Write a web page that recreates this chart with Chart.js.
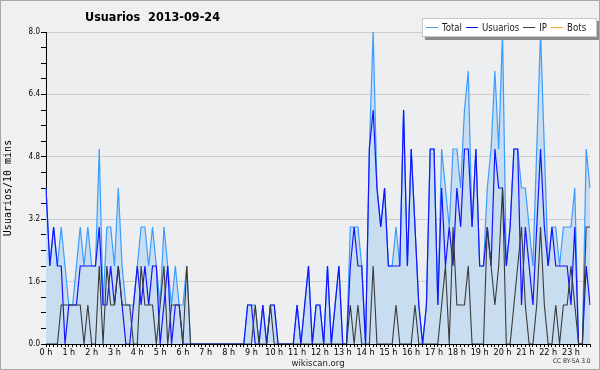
<!DOCTYPE html>
<html>
<head>
<meta charset="utf-8">
<script src="https://cdn.jsdelivr.net/npm/chart.js@4.4.1/dist/chart.umd.min.js"></script>
<style>
  html,body{margin:0;padding:0;background:#f0f0f0;}
  #wrap{position:relative;width:600px;height:370px;background:#f0f0f0;overflow:hidden;font-family:"DejaVu Sans Condensed","DejaVu Sans",sans-serif;}
  #c{position:absolute;left:0;top:0;}
  #frame{position:absolute;left:0;top:0;width:598px;height:368px;border:1px solid #a8a8a8;pointer-events:none;}
  #title{position:absolute;left:85px;top:9px;font-weight:bold;font-size:12.5px;color:#000;white-space:pre;}
  #legend{position:absolute;left:422px;top:18px;width:170px;height:17px;background:#fff;border:1px solid #c8c8c8;box-shadow:3px 3px 0 #8a8a8a;font-size:9.6px;color:#222;white-space:nowrap;display:flex;align-items:center;padding-left:3px;box-sizing:content-box;}
  #legend .ln{display:inline-block;width:12px;height:0;border-top:1px solid;margin-right:4px;}
  #legend .tx{margin-right:4px;}
  #cc{position:absolute;left:553px;top:357px;font-size:6.5px;color:#333;}
</style>
</head>
<body>
<div id="wrap">
  <canvas id="c" width="600" height="370"></canvas>
  <div id="title">Usuarios  2013-09-24</div>
  <div id="legend"></div>
  <div id="cc">CC BY-SA 3.0</div>
  <div id="frame"></div>
</div>
<script>
// ---- data (one value per 10-minute slot, 144 slots) ----
const hourLabels = ['0 h','1 h','2 h','3 h','4 h','5 h','6 h','7 h','8 h','9 h','10 h','11 h',
                    '12 h','13 h','14 h','15 h','16 h','17 h','18 h','19 h','20 h','21 h','22 h','23 h'];
const yTickLabels = ['0.0','1.6','3.2','4.8','6.4','8.0'];
const seriesNames = ['Total','Usuarios','IP','Bots'];

const total = [
  4,2,3,2,3,2,1,1,2,3, 2,3,2,2,5,1,3,3,2,4,
  2,1,1,1,2,3,3,2,3,2, 1,3,2,1,2,1,1,2,0,0,
  0,0,0,0,0,0,0,0,0,0, 0,0,0,1,1,1,0,1,0,1,
  1,0,0,0,0,0,1,0,1,2, 0,1,1,0,2,0,1,2,0,0,
  3,3,3,2,0,5,8,4,3,4, 2,2,3,2,6,2,5,3,1,0,
  1,5,5,1,5,4,3,5,5,4, 6,7,3,5,2,2,4,5,7,5,
  8,2,3,5,5,4,4,3,2,5, 8,5,2,3,3,2,3,3,3,4,
  0,0,5,4
];
const usuarios = [
  4,2,3,2,2,0,1,1,1,2, 2,2,2,2,3,1,1,2,1,2,
  1,0,0,1,2,1,2,1,2,2, 0,1,2,0,1,1,0,0,0,0,
  0,0,0,0,0,0,0,0,0,0, 0,0,0,1,1,0,0,1,0,1,
  1,0,0,0,0,0,1,0,1,2, 0,1,1,0,2,0,1,2,0,0,
  2,3,2,2,0,5,6,4,3,4, 2,2,2,2,6,2,5,3,1,0,
  1,5,5,1,4,2,3,2,4,3, 5,5,3,5,2,2,3,2,5,4,
  4,2,3,5,5,1,3,2,1,3, 5,3,2,3,2,2,2,2,1,3,
  0,0,2,1
];
const ip = [
  0,0,0,0,1,1,1,1,1,1, 0,1,0,0,2,0,2,1,1,2,
  1,1,1,0,0,2,1,1,1,0, 1,2,0,1,1,1,0,2,0,0,
  0,0,0,0,0,0,0,0,0,0, 0,0,0,0,0,1,0,0,0,1,
  0,0,0,0,0,0,0,0,0,0, 0,0,0,0,0,0,0,0,0,0,
  1,0,1,0,0,0,2,0,0,0, 0,0,1,0,0,0,0,1,0,0,
  0,0,0,0,1,2,0,3,1,1, 1,2,0,0,0,0,3,2,1,2,
  4,0,0,1,2,3,1,0,0,1, 3,1,0,0,1,0,1,1,2,1,
  0,0,3,3
];
const bots = [];   // no bot activity that day

// ---- build labels: one per slot, hour label every 6th slot ----
const slots = total.map((_, i) => (i % 6 === 0 ? hourLabels[i / 6] : ''));

const colors = { Total:'#3a9cff', Usuarios:'#1414ff', IP:'#3a3a3a', Bots:'#ffa31a' };

// HTML legend
const leg = document.getElementById('legend');
seriesNames.forEach((n) => {
  const ln = document.createElement('span');
  ln.className = 'ln';
  ln.style.borderTopColor = colors[n];
  leg.appendChild(ln);
  const s = document.createElement('span');
  s.className = 'tx';
  s.textContent = n;
  leg.appendChild(s);
});

const plotBg = {
  id: 'plotBg',
  beforeDraw(chart) {
    const { ctx, chartArea: a } = chart;
    ctx.save();
    ctx.fillStyle = '#eceef0';
    ctx.fillRect(a.left, a.top, a.right - a.left, a.bottom - a.top);
    ctx.restore();
  }
};

const isMajor = v => Math.abs(v / 1.6 - Math.round(v / 1.6)) < 1e-6;

new Chart(document.getElementById('c'), {
  type: 'line',
  data: {
    labels: slots,
    datasets: [
      { label: 'Total', data: total, borderColor: colors.Total, backgroundColor: '#c8ddf0',
        fill: 'origin', borderWidth: 1.2, pointRadius: 0, tension: 0, order: 3 },
      { label: 'Usuarios', data: usuarios, borderColor: colors.Usuarios, fill: false,
        borderWidth: 1.2, pointRadius: 0, tension: 0, order: 2 },
      { label: 'IP', data: ip, borderColor: colors.IP, fill: false,
        borderWidth: 1.1, pointRadius: 0, tension: 0, order: 1 },
      { label: 'Bots', data: bots, borderColor: colors.Bots, fill: false,
        borderWidth: 1.1, pointRadius: 0, tension: 0, order: 0 }
    ]
  },
  options: {
    responsive: false,
    animation: false,
    events: [],
    layout: { padding: { left: 0, right: 10, top: 32, bottom: 0 } },
    plugins: { legend: { display: false }, title: { display: false }, tooltip: { enabled: false } },
    scales: {
      x: {
        type: 'category',
        offset: false,
        grid: { display: true, drawOnChartArea: false, drawTicks: true, tickLength: 3,
                color: '#000', tickColor: '#000', lineWidth: 1 },
        border: { display: true, color: '#000', width: 1 },
        ticks: { autoSkip: false, maxRotation: 0, minRotation: 0, padding: 0,
                 color: '#000', font: { family: '"DejaVu Sans Condensed","DejaVu Sans"', size: 9 },
                 callback(v) { return this.getLabelForValue(v); } },
        title: { display: true, text: 'wikiscan.org', color: '#222', padding: { top: 0, bottom: 1 },
                 font: { family: '"DejaVu Sans Condensed","DejaVu Sans"', size: 9.5 } },
        afterFit(s) { s.height = 26; }
      },
      y: {
        min: 0, max: 8,
        grid: { drawTicks: true, tickLength: 5,
                color: c => (isMajor(c.tick.value) && c.tick.value > 0 ? '#cdcdcd' : 'rgba(0,0,0,0)'),
                tickColor: '#000', lineWidth: 1 },
        border: { display: true, color: '#000', width: 1 },
        ticks: { stepSize: 0.4, autoSkip: false, padding: 1, color: '#000',
                 font: { family: '"DejaVu Sans Condensed","DejaVu Sans"', size: 8 },
                 callback: v => (isMajor(v) ? yTickLabels[Math.round(v / 1.6)] : '') },
        title: { display: true, text: 'Usuarios/10 mins', color: '#000', padding: { top: 2, bottom: 0 },
                 font: { family: '"DejaVu Sans Mono","DejaVu Sans"', size: 10 } },
        afterFit(s) { s.width = 46; }
      }
    }
  },
  plugins: [plotBg]
});
</script>
</body>
</html>
